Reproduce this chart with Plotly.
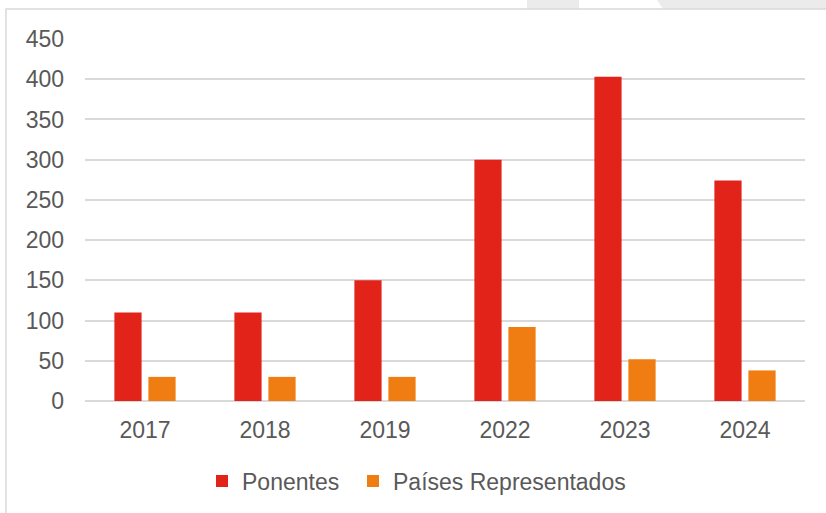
import plotly.graph_objects as go

years = ["2017", "2018", "2019", "2022", "2023", "2024"]
ponentes = [110, 110, 150, 300, 403, 274]
paises = [30, 30, 30, 92, 52, 38]
y_ticks = [0, 50, 100, 150, 200, 250, 300, 350, 400, 450]

W, H = 826, 513
L, R, T, B = 85, 21, 39, 111
pw, ph = W - L - R, H - T - B

def px_x(x):
    return (x - L) / pw

def px_y(y):
    return (H - B - y) / ph

fig = go.Figure()
fig.add_trace(go.Bar(x=years, y=ponentes, name="Ponentes", legend="legend",
                     marker=dict(color="#E2231A", line=dict(width=0))))
fig.add_trace(go.Bar(x=years, y=paises, name="Países Representados", legend="legend2",
                     marker=dict(color="#EF7D11", line=dict(width=0))))

shapes = [
    dict(type="rect", xref="paper", yref="paper",
         x0=px_x(527), x1=px_x(579), y0=px_y(9), y1=px_y(0),
         fillcolor="#EBEBEB", line=dict(width=0), layer="below"),
    dict(type="path", xref="paper", yref="paper",
         path=f"M {px_x(657)},{px_y(0)} L {px_x(830)},{px_y(0)} L {px_x(830)},{px_y(9)} L {px_x(663)},{px_y(9)} Z",
         fillcolor="#EBEBEB", line=dict(width=0), layer="below"),
    dict(type="rect", xref="paper", yref="paper",
         x0=px_x(6), x1=px_x(840), y0=px_y(530), y1=px_y(9),
         fillcolor="rgba(0,0,0,0)", line=dict(color="#D9D9D9", width=1.5), layer="below"),
]

leg_common = dict(orientation="h", xanchor="left", y=px_y(481), yanchor="middle",
                  font=dict(size=23, color="#595959"), bgcolor="rgba(0,0,0,0)")

fig.update_layout(
    width=W, height=H,
    margin=dict(l=L, r=R, t=T, b=B, pad=0),
    paper_bgcolor="white", plot_bgcolor="white",
    font=dict(family="Liberation Sans, Arial, sans-serif", size=23, color="#595959"),
    barmode="group", bargap=0.433, bargroupgap=0.2,
    showlegend=True,
    legend=dict(x=px_x(202), **leg_common),
    legend2=dict(x=px_x(353), **leg_common),
    shapes=shapes,
)
fig.update_xaxes(showgrid=False, showline=False, zeroline=False, ticks="",
                 ticklabelstandoff=13, tickfont=dict(size=23, color="#595959"))
fig.update_yaxes(range=[0, 450], tickvals=y_ticks, showgrid=True, gridcolor="#D9D9D9",
                 gridwidth=1.5, zeroline=True, zerolinecolor="#D9D9D9", zerolinewidth=1.5,
                 showline=False, ticks="", ticklabelstandoff=20,
                 tickfont=dict(size=23, color="#595959"))

fig.write_html("out.html", config={"displayModeBar": False},
               post_script="document.body.style.margin='0';")
